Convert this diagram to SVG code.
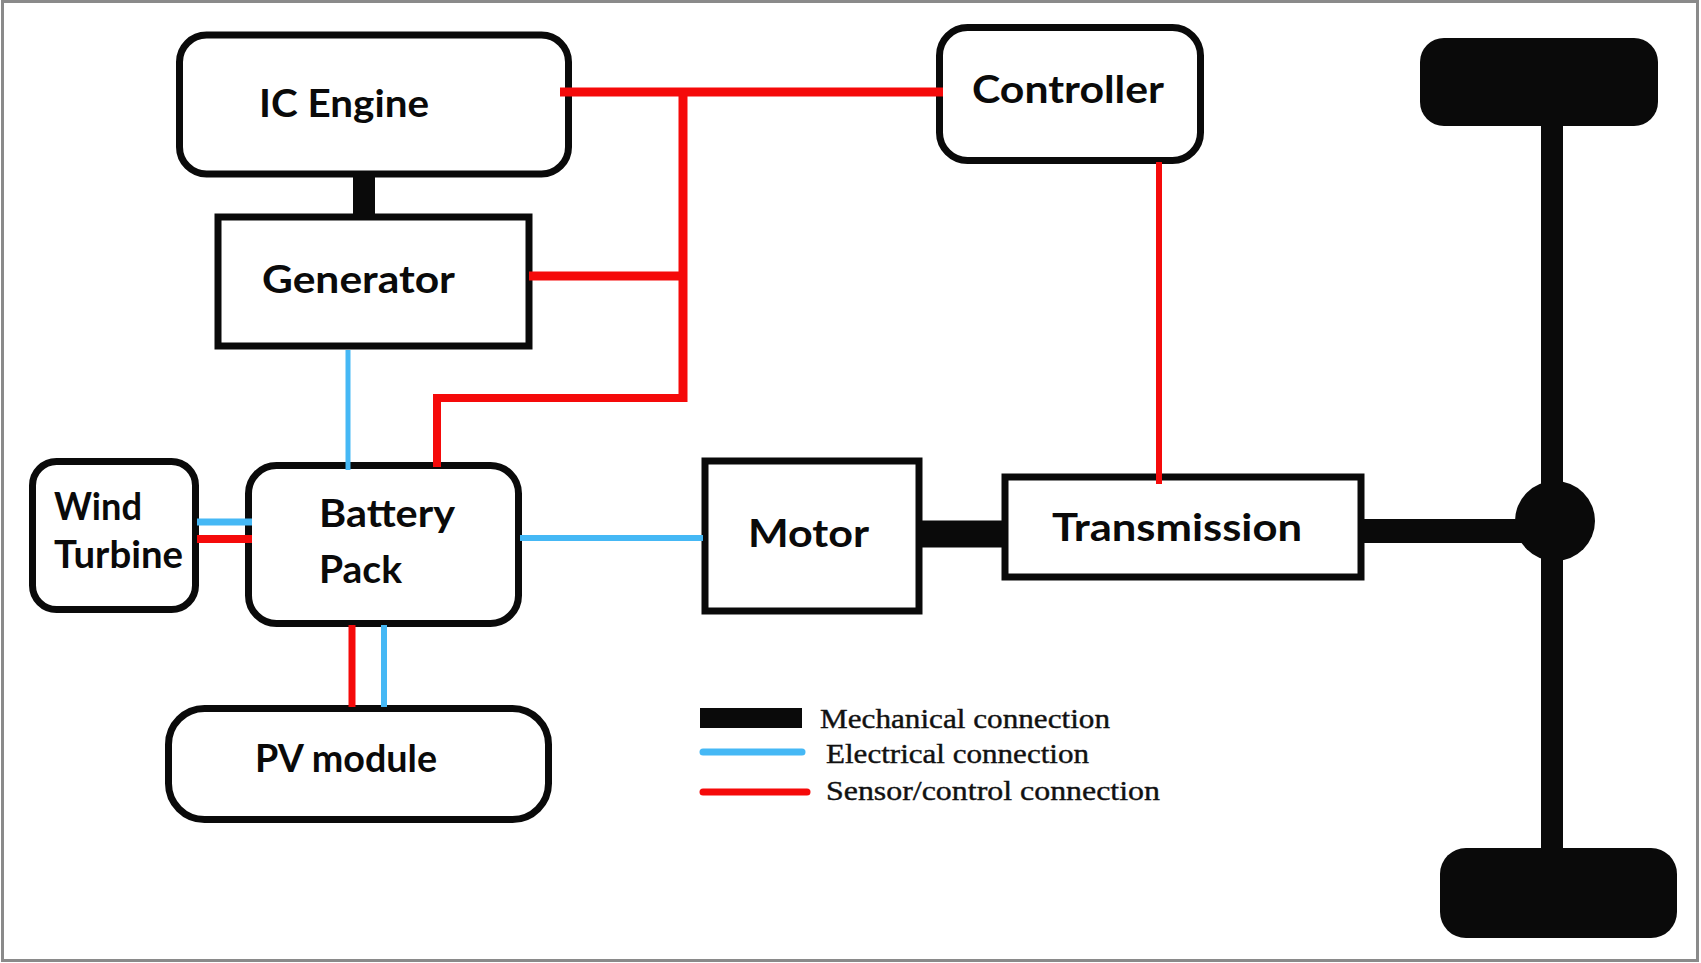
<svg xmlns="http://www.w3.org/2000/svg" width="1701" height="963" viewBox="0 0 1701 963">
<style>
.box{fill:#fff;stroke:#0a0a0a;stroke-width:7}
.lbl{font-family:Lato,"Open Sans",sans-serif;font-weight:bold;font-size:38px;fill:#0a0a0a}
.leg{font-family:"Liberation Serif","Times New Roman",serif;font-size:28px;fill:#111;stroke:#111;stroke-width:0.4}
.red{stroke:#f50a0a;fill:none;stroke-linecap:butt}
.blue{stroke:#45b8f5;fill:none}
.mech{stroke:#0a0a0a;fill:none}
</style>
<rect x="0" y="0" width="1701" height="963" fill="#fff"/>
<rect x="2.5" y="1.5" width="1695" height="959" fill="none" stroke="#8a8a8a" stroke-width="3"/>

<g id="ic-engine">
  <rect class="box" x="179.5" y="35" width="389" height="139" rx="27"/>
  <text class="lbl" x="259" y="117" textLength="170" lengthAdjust="spacingAndGlyphs">IC Engine</text>
</g>
<g id="generator">
  <rect class="box" x="218" y="217" width="311" height="129" stroke-width="8"/>
  <text class="lbl" x="262" y="293" textLength="193" lengthAdjust="spacingAndGlyphs">Generator</text>
</g>
<g id="controller">
  <rect class="box" x="939.5" y="27.5" width="261" height="133" rx="28"/>
  <text class="lbl" x="972" y="103" textLength="192" lengthAdjust="spacingAndGlyphs">Controller</text>
</g>
<g id="wind-turbine">
  <rect class="box" x="32.5" y="461.5" width="163" height="148" rx="24"/>
  <text class="lbl" x="54" y="520" textLength="88" lengthAdjust="spacingAndGlyphs">Wind</text>
  <text class="lbl" x="54" y="568" textLength="129" lengthAdjust="spacingAndGlyphs">Turbine</text>
</g>
<g id="battery-pack">
  <rect class="box" x="248.5" y="465.5" width="270" height="158" rx="28"/>
  <text class="lbl" x="319" y="527" textLength="136" lengthAdjust="spacingAndGlyphs">Battery</text>
  <text class="lbl" x="319" y="583" textLength="83" lengthAdjust="spacingAndGlyphs">Pack</text>
</g>
<g id="pv-module">
  <rect class="box" x="168.5" y="708.5" width="380" height="111" rx="36"/>
  <text class="lbl" x="255" y="772" textLength="182" lengthAdjust="spacingAndGlyphs">PV module</text>
</g>
<g id="motor">
  <rect class="box" x="705" y="461" width="214" height="150" stroke-width="8"/>
  <text class="lbl" x="748" y="547" textLength="121" lengthAdjust="spacingAndGlyphs">Motor</text>
</g>
<g id="transmission">
  <rect class="box" x="1005" y="477" width="356" height="100" stroke-width="8"/>
  <text class="lbl" x="1052" y="541" textLength="250" lengthAdjust="spacingAndGlyphs">Transmission</text>
</g>
<g id="wheel-top">
  <rect x="1420" y="38" width="238" height="88" rx="24" fill="#0a0a0a"/>
</g>
<g id="wheel-bottom">
  <rect x="1440" y="848" width="237" height="90" rx="26" fill="#0a0a0a"/>
</g>
<g id="differential">
  <ellipse cx="1555" cy="521" rx="40" ry="40" fill="#0a0a0a"/>
</g>

<g id="connectors">
  <!-- mechanical -->
  <line class="mech" x1="364" y1="175" x2="364" y2="216" stroke-width="22"/>
  <line class="mech" x1="920" y1="534" x2="1004" y2="534" stroke-width="27"/>
  <line class="mech" x1="1362" y1="531" x2="1530" y2="531" stroke-width="24"/>
  <line class="mech" x1="1552" y1="120" x2="1552" y2="852" stroke-width="22"/>
  <!-- sensor/control -->
  <polyline class="red" points="560,92 943,92" stroke-width="9"/>
  <polyline class="red" points="683,92 683,402" stroke-width="9"/>
  <polyline class="red" points="529,276 683,276" stroke-width="9"/>
  <polyline class="red" points="687,398 437,398 437,467" stroke-width="8"/>
  <line class="red" x1="1159" y1="162" x2="1159" y2="484" stroke-width="6"/>
  <line class="red" x1="197" y1="539" x2="252" y2="539" stroke-width="8"/>
  <line class="red" x1="352" y1="625" x2="352" y2="707" stroke-width="7"/>
  <!-- electrical -->
  <line class="blue" x1="348" y1="350" x2="348" y2="470" stroke-width="5"/>
  <line class="blue" x1="197" y1="522" x2="252" y2="522" stroke-width="7"/>
  <line class="blue" x1="520" y1="538" x2="703" y2="538" stroke-width="6"/>
  <line class="blue" x1="384" y1="625" x2="384" y2="707" stroke-width="6"/>
</g>

<g id="legend">
  <rect x="700" y="708" width="102" height="20" fill="#0a0a0a"/>
  <line x1="703" y1="752" x2="802" y2="752" stroke="#45b8f5" stroke-width="7" stroke-linecap="round"/>
  <line x1="703" y1="792" x2="807" y2="792" stroke="#f50a0a" stroke-width="7" stroke-linecap="round"/>
  <text class="leg" x="820" y="728" textLength="290" lengthAdjust="spacingAndGlyphs">Mechanical connection</text>
  <text class="leg" x="826" y="763" textLength="263" lengthAdjust="spacingAndGlyphs">Electrical connection</text>
  <text class="leg" x="826" y="800" textLength="334" lengthAdjust="spacingAndGlyphs">Sensor/control connection</text>
</g>
</svg>
